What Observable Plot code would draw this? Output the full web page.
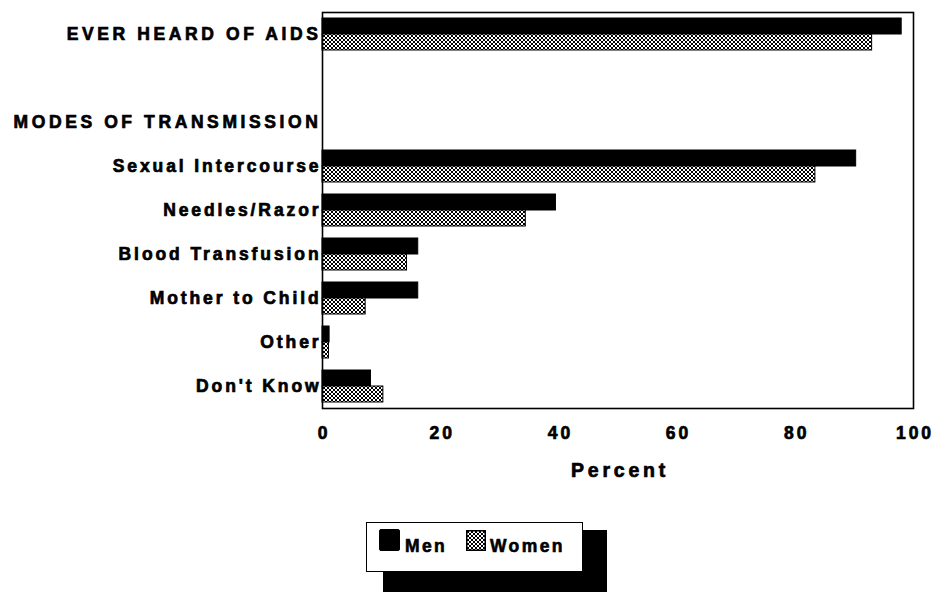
<!DOCTYPE html>
<html>
<head>
<meta charset="utf-8">
<script src="https://cdn.jsdelivr.net/npm/d3@7"></script>
<script src="https://cdn.jsdelivr.net/npm/@observablehq/plot@0.6"></script>
<style>
  html, body { margin: 0; padding: 0; background: #fff; width: 935px; height: 592px; overflow: hidden; }
  #chart { position: relative; width: 935px; }
  #chart svg text { stroke: #000; stroke-width: 0.7px; paint-order: stroke; }
  #legend { position: relative; width: 935px; height: 92px; font-family: "Liberation Sans", Arial, sans-serif; font-weight: bold; font-size: 17.5px; letter-spacing: 2.4px; -webkit-text-stroke: 0.6px #000; }
  .shadow { position: absolute; left: 383px; top: 30px; width: 224px; height: 70px; background: #000; }
  .box { position: absolute; left: 366px; top: 22px; width: 215px; height: 48px; background: #fff; border: 1.5px solid #000; }
  .sw { position: absolute; }
  .lab { position: absolute; top: 13px; line-height: 20px; }
</style>
</head>
<body>
<div id="chart"></div>
<div id="legend">
  <div class="shadow"></div>
  <div class="box">
    <svg class="sw" style="left:12px;top:6px" width="21" height="22"><rect x="0.5" y="0.5" width="20" height="21" rx="1.5" fill="#000" stroke="#000"/></svg>
    <div class="lab" style="left:38px">Men</div>
    <svg class="sw" style="left:99px;top:7px" width="20" height="21">
      <defs>
        <pattern id="wpatL" width="4" height="4" patternUnits="userSpaceOnUse">
          <rect width="4" height="4" fill="#fff"/>
          <rect x="0" y="0" width="1" height="1" fill="#000"/><rect x="1" y="1" width="1" height="1" fill="#000"/>
          <rect x="2" y="2" width="1" height="1" fill="#000"/><rect x="3" y="3" width="1" height="1" fill="#000"/>
          <rect x="3" y="0" width="1" height="1" fill="#000"/><rect x="2" y="1" width="1" height="1" fill="#000"/>
          <rect x="1" y="2" width="1" height="1" fill="#000"/><rect x="0" y="3" width="1" height="1" fill="#000"/>
        </pattern>
      </defs>
      <rect x="0.75" y="0.75" width="18.5" height="19.5" fill="url(#wpatL)" stroke="#000" stroke-width="1.5"/>
    </svg>
    <div class="lab" style="left:123px">Women</div>
  </div>
</div>
<script>
// ---- data ----
const categories = ["EVER HEARD OF AIDS", "", "MODES OF TRANSMISSION", "Sexual Intercourse", "Needles/Razor", "Blood Transfusion", "Mother to Child", "Other", "Don't Know"];
const men   = [98.0, null, null, 90.3, 39.5, 16.2, 16.2, 1.2, 8.2];
const women = [93.0, null, null, 83.4, 34.4, 14.3, 7.3, 1.1, 10.3];
const xTicks = [0, 20, 40, 60, 80, 100];

const menRows = categories.map((c, i) => ({cat: c, value: men[i]})).filter(d => d.value != null);
const womenRows = categories.map((c, i) => ({cat: c, value: women[i]})).filter(d => d.value != null);

const font = '"Liberation Sans", Arial, sans-serif';

const chart = Plot.plot({
  width: 935,
  height: 500,
  marginLeft: 322,
  marginRight: 22,
  marginTop: 12,
  marginBottom: 92,
  style: {fontFamily: font, fontWeight: "bold", fontSize: "17.5px", color: "#000", background: "#fff"},
  x: {domain: [0, 100], ticks: xTicks, tickSize: 0, tickPadding: 18, label: null},
  y: {domain: categories, padding: 0, tickSize: 0, tickPadding: 1, label: null},
  marks: [
    Plot.barX(menRows, {x: "value", y: "cat", fill: "#000", stroke: "#000", strokeWidth: 1, insetTop: 6, insetBottom: 22}),
    Plot.barX(womenRows, {x: "value", y: "cat", fill: "url(#wpat)", stroke: "#000", strokeWidth: 1, insetTop: 22, insetBottom: 6}),
    Plot.frame({stroke: "#000", strokeWidth: 1.6}),
    Plot.text(["Percent"], {frameAnchor: "bottom", dy: 62, lineAnchor: "middle", fontSize: 19.5, fontWeight: "bold", fill: "#000"})
  ]
});

// pattern definition for women bars
const ns = "http://www.w3.org/2000/svg";
const defs = document.createElementNS(ns, "defs");
defs.innerHTML = `<pattern id="wpat" width="4" height="4" patternUnits="userSpaceOnUse">
  <rect width="4" height="4" fill="#fff"/>
  <rect x="0" y="0" width="1" height="1" fill="#000"/><rect x="1" y="1" width="1" height="1" fill="#000"/>
  <rect x="2" y="2" width="1" height="1" fill="#000"/><rect x="3" y="3" width="1" height="1" fill="#000"/>
  <rect x="3" y="0" width="1" height="1" fill="#000"/><rect x="2" y="1" width="1" height="1" fill="#000"/>
  <rect x="1" y="2" width="1" height="1" fill="#000"/><rect x="0" y="3" width="1" height="1" fill="#000"/>
</pattern>`;
chart.insertBefore(defs, chart.firstChild);

// letter spacing tweaks
chart.querySelectorAll("text").forEach(t => {
  const s = t.textContent;
  if (s === "Percent") { t.style.letterSpacing = "3.8px"; t.setAttribute("dx", "2"); }
  else if (/^\d+$/.test(s)) { t.style.letterSpacing = "3px"; t.setAttribute("dx", "1.5"); }
  else if (s === s.toUpperCase()) { t.style.letterSpacing = "3.6px"; }
  else { t.style.letterSpacing = "2.9px"; }
});

document.getElementById("chart").appendChild(chart);
</script>
</body>
</html>
